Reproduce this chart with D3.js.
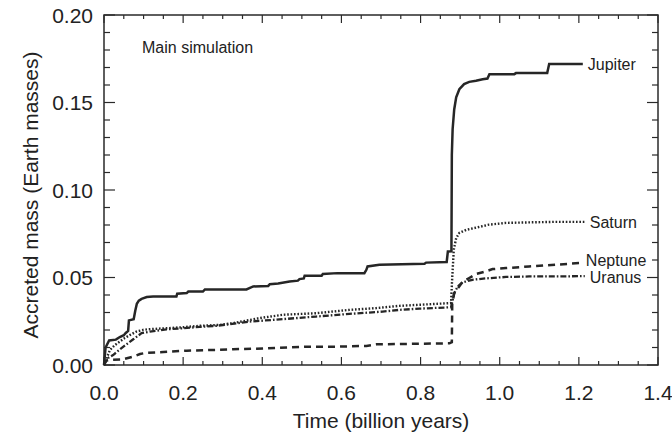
<!DOCTYPE html>
<head>
<meta charset="UTF-8">
<script src="https://d3js.org/d3.v7.min.js"></script>
<style>
  body { margin: 0; background: #fff; }
  text { font-family: "Liberation Sans", Arial, Helvetica, sans-serif; fill: #222; }
  .frame { fill: none; stroke: #2a2a2a; stroke-width: 1.5px; }
  .tick-line { stroke: #2a2a2a; stroke-width: 1.2px; }
  .series { fill: none; stroke: #262626; stroke-width: 2.4px; }
</style>
</head>
<body>
<div id="chart"></div>
<script>
  // values (time in Gyr, mass in Earth masses)
  var jupiterT = [0, 0.004, 0.013, 0.03, 0.04, 0.05, 0.055, 0.061, 0.063, 0.075, 0.079, 0.083, 0.088, 0.095, 0.108, 0.124, 0.183, 0.185, 0.209, 0.213, 0.25, 0.255, 0.36, 0.377, 0.415, 0.419, 0.44, 0.469, 0.49, 0.494, 0.505, 0.507, 0.55, 0.553, 0.59, 0.658, 0.663, 0.666, 0.696, 0.81, 0.814, 0.866, 0.869, 0.878, 0.879, 0.881, 0.885, 0.89, 0.898, 0.91, 0.923, 0.94, 0.957, 0.969, 0.974, 1.037, 1.041, 1.12, 1.125, 1.21];
  var jupiterM = [0, 0.010, 0.014, 0.0145, 0.016, 0.017, 0.0183, 0.0195, 0.0255, 0.0262, 0.031, 0.035, 0.0368, 0.0378, 0.0388, 0.0391, 0.0391, 0.0407, 0.0411, 0.042, 0.042, 0.0432, 0.0432, 0.0449, 0.0452, 0.0462, 0.0466, 0.0477, 0.0482, 0.0491, 0.0495, 0.051, 0.051, 0.052, 0.0525, 0.0525, 0.0544, 0.0563, 0.0573, 0.0578, 0.0585, 0.0589, 0.0649, 0.065, 0.12, 0.1347, 0.146, 0.153, 0.1576, 0.1605, 0.1618, 0.1624, 0.1633, 0.1637, 0.1662, 0.1662, 0.1668, 0.1668, 0.172, 0.172];

  var saturnT = [0, 0.015, 0.028, 0.04, 0.053, 0.066, 0.082, 0.099, 0.116, 0.158, 0.2, 0.242, 0.292, 0.326, 0.393, 0.452, 0.536, 0.62, 0.688, 0.746, 0.797, 0.877, 0.88, 0.884, 0.89, 0.898, 0.915, 0.94, 0.973, 1.016, 1.074, 1.142, 1.215];
  var saturnM = [0, 0.0086, 0.0115, 0.0134, 0.0155, 0.0172, 0.0191, 0.0201, 0.0205, 0.021, 0.0216, 0.0224, 0.0229, 0.0239, 0.0268, 0.0287, 0.0296, 0.0315, 0.0325, 0.0338, 0.0344, 0.0354, 0.05, 0.066, 0.0725, 0.0755, 0.0772, 0.0785, 0.0802, 0.0812, 0.0815, 0.0818, 0.0818];

  var neptuneT = [0, 0.005, 0.015, 0.049, 0.074, 0.091, 0.108, 0.15, 0.209, 0.276, 0.326, 0.41, 0.511, 0.595, 0.663, 0.688, 0.746, 0.873, 0.879, 0.88, 0.885, 0.906, 0.923, 0.94, 0.965, 0.982, 1.016, 1.074, 1.142, 1.205];
  var neptuneM = [0, 0.0025, 0.0029, 0.0033, 0.0048, 0.0063, 0.007, 0.0074, 0.0082, 0.0086, 0.009, 0.0095, 0.0105, 0.0105, 0.0109, 0.0118, 0.012, 0.0124, 0.013, 0.035, 0.041, 0.0475, 0.0497, 0.052, 0.0535, 0.0548, 0.0554, 0.0563, 0.0573, 0.0583];

  var uranusT = [0, 0.01, 0.023, 0.049, 0.074, 0.095, 0.116, 0.158, 0.2, 0.242, 0.284, 0.368, 0.452, 0.536, 0.62, 0.704, 0.746, 0.797, 0.877, 0.882, 0.885, 0.894, 0.906, 0.931, 0.965, 1.016, 1.074, 1.142, 1.215];
  var uranusM = [0, 0.004, 0.0057, 0.0105, 0.0147, 0.0182, 0.0191, 0.0204, 0.021, 0.0218, 0.0224, 0.0248, 0.0262, 0.0277, 0.0292, 0.0305, 0.0315, 0.0322, 0.033, 0.038, 0.041, 0.0449, 0.0472, 0.0487, 0.0495, 0.0503, 0.0506, 0.0506, 0.0508];

  var planetNames = ["Jupiter", "Saturn", "Neptune", "Uranus"];
  var labelMass = [0.1715, 0.0815, 0.0595, 0.050];

  var xTicks = [0, 0.2, 0.4, 0.6, 0.8, 1.0, 1.2, 1.4];
  var yTicks = [0, 0.05, 0.10, 0.15, 0.20];

  var width = 672, height = 436;
  var margin = {top: 15, right: 14, bottom: 71, left: 104};

  var x = d3.scaleLinear().domain([0, 1.4]).range([margin.left, width - margin.right]);
  var y = d3.scaleLinear().domain([0, 0.20]).range([height - margin.bottom, margin.top]);

  var svg = d3.select("#chart").append("svg")
      .attr("width", width)
      .attr("height", height);

  // minor / major ticks, all pointing inward on the four sides
  var xMinor = d3.range(0, 1.4001, 0.05), yMinor = d3.range(0, 0.2001, 0.01);
  var ticks = svg.append("g");
  xMinor.forEach(function(t) {
    var major = Math.abs(t / 0.2 - Math.round(t / 0.2)) < 1e-6;
    var len = major ? 8 : 4;
    ticks.append("line").attr("class", "tick-line")
      .attr("x1", x(t)).attr("x2", x(t)).attr("y1", y(0)).attr("y2", y(0) - len);
    ticks.append("line").attr("class", "tick-line")
      .attr("x1", x(t)).attr("x2", x(t)).attr("y1", y(0.2)).attr("y2", y(0.2) + len);
  });
  yMinor.forEach(function(v) {
    var major = Math.abs(v / 0.05 - Math.round(v / 0.05)) < 1e-6;
    var len = major ? 11 : 6;
    ticks.append("line").attr("class", "tick-line")
      .attr("x1", x(0)).attr("x2", x(0) + len).attr("y1", y(v)).attr("y2", y(v));
    ticks.append("line").attr("class", "tick-line")
      .attr("x1", x(1.4)).attr("x2", x(1.4) - len).attr("y1", y(v)).attr("y2", y(v));
  });

  svg.append("rect").attr("class", "frame")
      .attr("x", x(0)).attr("y", y(0.2))
      .attr("width", x(1.4) - x(0)).attr("height", y(0) - y(0.2));

  // tick labels
  svg.append("g").selectAll("text").data(xTicks).enter().append("text")
      .attr("x", function(d) { return x(d); })
      .attr("y", y(0) + 35)
      .attr("text-anchor", "middle")
      .style("font-size", "21px")
      .text(function(d) { return d3.format(".1f")(d); });

  svg.append("g").selectAll("text").data(yTicks).enter().append("text")
      .attr("x", x(0) - 11)
      .attr("y", function(d) { return y(d); })
      .attr("dy", "0.36em")
      .attr("text-anchor", "end")
      .style("font-size", "21px")
      .text(function(d) { return d3.format(".2f")(d); });

  // axis titles
  svg.append("text")
      .attr("x", (x(0) + x(1.4)) / 2)
      .attr("y", 428)
      .attr("text-anchor", "middle")
      .style("font-size", "21px")
      .text("Time (billion years)");

  svg.append("text")
      .attr("transform", "translate(38," + ((y(0) + y(0.2)) / 2 + 5) + ") rotate(-90)")
      .attr("text-anchor", "middle")
      .style("font-size", "21px")
      .text("Accreted mass (Earth masses)");

  svg.append("text")
      .attr("x", 142).attr("y", 53)
      .style("font-size", "16px")
      .text("Main simulation");

  // series
  var line = d3.line()
      .x(function(d) { return x(d[0]); })
      .y(function(d) { return y(d[1]); });

  var series = [
    {t: jupiterT, m: jupiterM, dash: null, width: 2.5},
    {t: saturnT, m: saturnM, dash: "1.6,1.8", width: 2.4},
    {t: neptuneT, m: neptuneM, dash: "7,5", width: 2.5},
    {t: uranusT, m: uranusM, dash: "6,2,1.6,2", width: 2.3}
  ];

  series.forEach(function(s, i) {
    var pts = s.t.map(function(t, k) { return [t, s.m[k]]; });
    svg.append("path").attr("class", "series")
        .attr("d", line(pts))
        .style("stroke-width", s.width)
        .style("stroke-dasharray", s.dash);

    svg.append("text")
        .attr("x", x(s.t[s.t.length - 1]) + 5)
        .attr("y", y(labelMass[i]))
        .attr("dy", "0.35em")
        .style("font-size", "16px")
        .text(planetNames[i]);
  });
</script>
</body>
